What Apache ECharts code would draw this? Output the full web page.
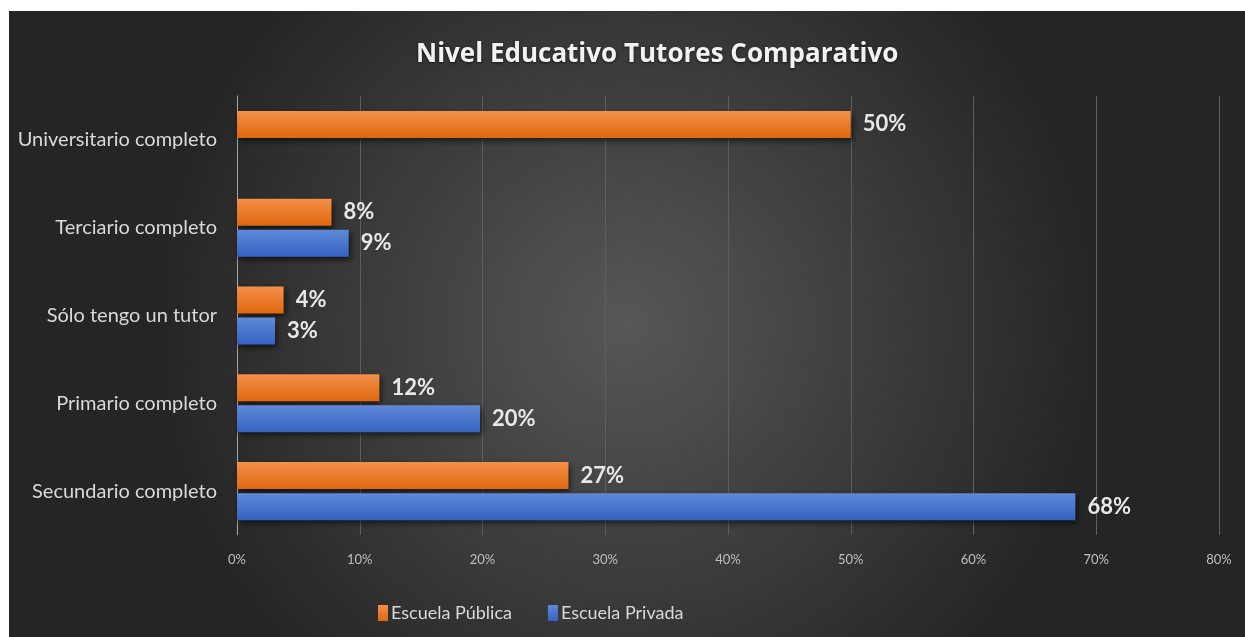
<!DOCTYPE html>
<html>
<head>
<meta charset="utf-8">
<script src="https://cdn.jsdelivr.net/npm/echarts@6/dist/echarts.min.js"></script>
<style>
  html, body { margin: 0; padding: 0; background: #fff; }
  #chart { position: absolute; left: 9px; top: 11px; width: 1236px; height: 626px; }
</style>
</head>
<body>
<div id="chart"></div>
<script>
!(function (window) {
    const { echarts } = window;

    // datos
    const categories = ['Secundario completo', 'Primario completo', 'Sólo tengo un tutor', 'Terciario completo', 'Universitario completo'];
    const publica = [0.27, 0.116, 0.038, 0.077, 0.50];
    const privada = [0.683, 0.198, 0.031, 0.091, null];
    const seriesNames = ['Escuela Pública', 'Escuela Privada'];
    const tickValues = [0, 0.1, 0.2, 0.3, 0.4, 0.5, 0.6, 0.7, 0.8];

    const chart = echarts.init(document.getElementById('chart'));
    const font = 'Lato, "Open Sans", sans-serif';

    const grad = (top, bottom) => new echarts.graphic.LinearGradient(0, 0, 0, 1, [
        { offset: 0, color: top },
        { offset: 1, color: bottom },
    ]);

    const label = {
        show: true,
        position: 'right',
        distance: 12,
        color: '#e8e8e8',
        fontFamily: font,
        fontWeight: 'bold',
        fontSize: 22,
        formatter: p => (p.value == null ? '' : Math.round(p.value * 100) + '%'),
    };

    const shadow = {
        shadowColor: 'rgba(0,0,0,0.6)',
        shadowBlur: 6,
        shadowOffsetX: 2,
        shadowOffsetY: 3,
    };

    const option = {
        backgroundColor: new echarts.graphic.RadialGradient(0.5, 0.5, 0.75, [
            { offset: 0, color: '#575757' },
            { offset: 1, color: '#252525' },
        ]),
        title: {
            text: 'Nivel Educativo Tutores Comparativo',
            left: 402,
            top: 26,
            textStyle: {
                color: '#f2f2f2',
                fontFamily: '"Open Sans", sans-serif',
                fontWeight: 'bold',
                fontSize: 26,
                textShadowColor: 'rgba(0,0,0,0.6)',
                textShadowBlur: 3,
                textShadowOffsetY: 1,
            },
        },
        legend: {
            data: seriesNames,
            bottom: 10,
            left: 364,
            itemWidth: 10,
            itemHeight: 16,
            itemGap: 36,
            icon: 'rect',
            textStyle: { color: '#d9d9d9', fontFamily: font, fontSize: 18, padding: [0, 0, 0, -2] },
        },
        grid: {
            left: 228,
            right: 26,
            top: 85,
            bottom: 102,
        },
        xAxis: {
            type: 'value',
            min: tickValues[0],
            max: tickValues[tickValues.length - 1],
            interval: 0.1,
            axisLine: { show: false },
            axisTick: { show: false },
            splitLine: { lineStyle: { color: '#5e5e5e', width: 1 } },
            axisLabel: {
                color: '#bfbfbf',
                fontFamily: font,
                fontSize: 13,
                margin: 18,
                formatter: v => Math.round(v * 100) + '%',
            },
        },
        yAxis: {
            type: 'category',
            data: categories,
            axisLine: { show: true, lineStyle: { color: '#a5a5a5', width: 1 } },
            axisTick: { show: false },
            axisLabel: {
                color: '#d9d9d9',
                fontFamily: font,
                fontSize: 20,
                margin: 20,
            },
        },
        series: [
            {
                name: seriesNames[0],
                type: 'bar',
                data: publica,
                barWidth: 27,
                barGap: '15%',
                label,
                itemStyle: Object.assign({ color: grad('#f4904a', '#e0680f') }, shadow),
            },
            {
                name: seriesNames[1],
                type: 'bar',
                data: privada,
                barWidth: 27,
                barGap: '15%',
                label,
                itemStyle: Object.assign({ color: grad('#5f8ad8', '#3562c2') }, shadow),
            },
        ],
        color: ['#ed7d31', '#4472c4'],
    };
    chart.setOption(option);
}(window));
</script>
</body>
</html>
